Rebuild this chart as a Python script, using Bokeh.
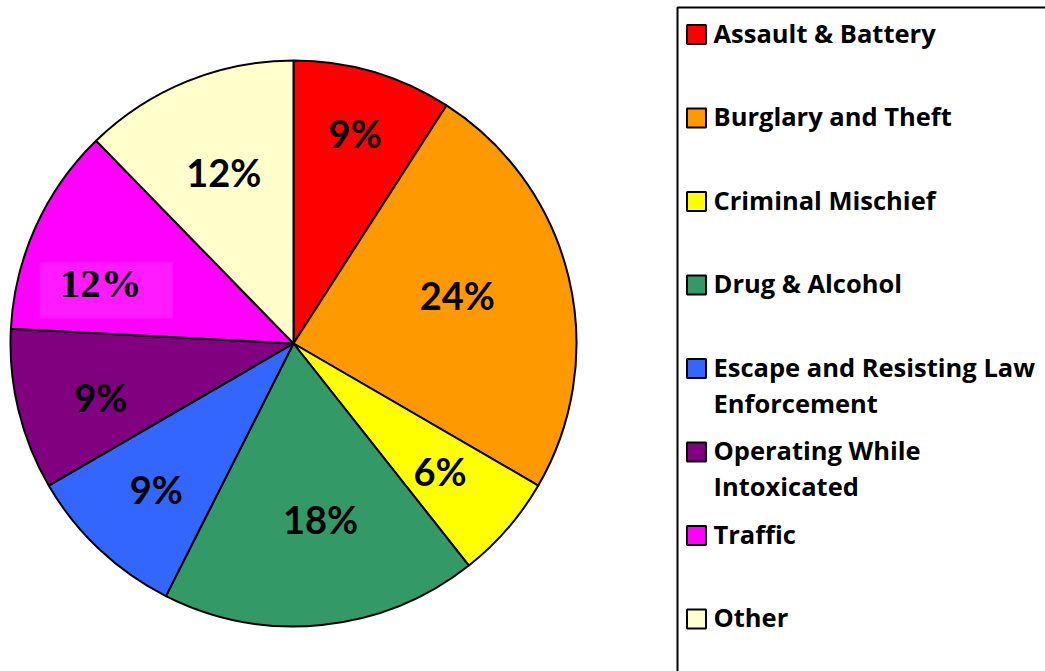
import math
from bokeh.plotting import figure
from bokeh.models import Range1d, Label
from bokeh.core.properties import value
from bokeh.embed import file_html
from bokeh.resources import INLINE

# ---- data ----
categories = ["Assault & Battery", "Burglary and Theft", "Criminal Mischief",
              "Drug & Alcohol", "Escape and Resisting Law Enforcement",
              "Operating While Intoxicated", "Traffic", "Other"]
shares = [9.1, 24.3, 6.0, 18.1, 9.2, 9.2, 11.9, 12.3]
colors = ["#FF0000", "#FF9900", "#FFFF00", "#339966", "#3366FF", "#800080", "#FF00FF", "#FFFFCC"]
legend_lines = [["Assault & Battery"], ["Burglary and Theft"], ["Criminal Mischief"],
                ["Drug & Alcohol"], ["Escape and Resisting Law", "Enforcement"],
                ["Operating While", "Intoxicated"], ["Traffic"], ["Other"]]

# ---- layout (styles / positions) ----
W, H = 1045, 671
cx, cy, R = 293, 328, 283
label_r = [219, 171, 194, 178, 200, 200, 202, 185]
label_nudge = [0, -3, 0, -3, 0, -2, -7, 0]

p = figure(width=W, height=H, output_backend="svg", toolbar_location=None,
           x_range=Range1d(0, W), y_range=Range1d(0, H), min_border=0)
p.axis.visible = False
p.grid.visible = False
p.outline_line_color = None
p.background_fill_color = "white"

total = sum(shares)
starts, ends, mids = [], [], []
cum = 0.0
for v in shares:
    a0 = cum / total * 360.0
    cum += v
    a1 = cum / total * 360.0
    # clockwise from top -> bokeh anticlockwise from +x
    starts.append(math.radians(90 - a1))
    ends.append(math.radians(90 - a0))
    mids.append((a0 + a1) / 2)

p.wedge(x=[cx] * len(shares), y=[cy] * len(shares), radius=R,
        start_angle=starts, end_angle=ends,
        fill_color=colors, line_color="black", line_width=2)

lx, ly = [], []
for m, r, n in zip(mids, label_r, label_nudge):
    a = math.radians(m + n)
    lx.append(cx + r * math.sin(a))
    ly.append(cy + r * math.cos(a))
labels = [f"{round(v)}%" for v in shares]

idx_t = categories.index("Traffic")
normal = [i for i in range(len(shares)) if i != idx_t]
p.text(x=[lx[i] for i in normal], y=[ly[i] for i in normal],
       text=[labels[i] for i in normal], text_align="center", text_baseline="middle",
       text_font=value("Lato"), text_font_style="bold", text_font_size="38px",
       text_color="black")
# Traffic label (serif with its own background box)
p.rect(x=[lx[idx_t] + 5.5], y=[ly[idx_t] - 7], width=133, height=56,
       fill_color="#FF1AFF", line_color=None)
p.add_layout(Label(x=lx[idx_t], y=ly[idx_t], text=labels[idx_t], text_align="center",
                   text_baseline="middle", text_font="Liberation Serif",
                   text_font_style="bold", text_font_size="41px", text_color="black"))

# legend box
p.quad(left=[677], right=[W + 20], top=[664], bottom=[-20],
       fill_color=None, line_color="black", line_width=2)

y0, step, line_h = H - 34, 83.5, 36
sq_x, txt_x = 696, 713
tx, ty, tt = [], [], []
sqy = []
for i, lines in enumerate(legend_lines):
    yy = y0 - i * step
    sqy.append(yy)
    for j, s in enumerate(lines):
        tx.append(txt_x)
        ty.append(yy - j * line_h + 2)
        tt.append(s)
p.rect(x=[sq_x] * len(sqy), y=sqy, width=19, height=19,
       fill_color=colors, line_color="black", line_width=2)
p.text(x=tx, y=ty, text=tt, text_align="left", text_baseline="middle",
       text_font=value("Open Sans"), text_font_style="bold", text_font_size="25.5px",
       text_color="black")

open("out.html", "w").write(file_html(p, INLINE))
